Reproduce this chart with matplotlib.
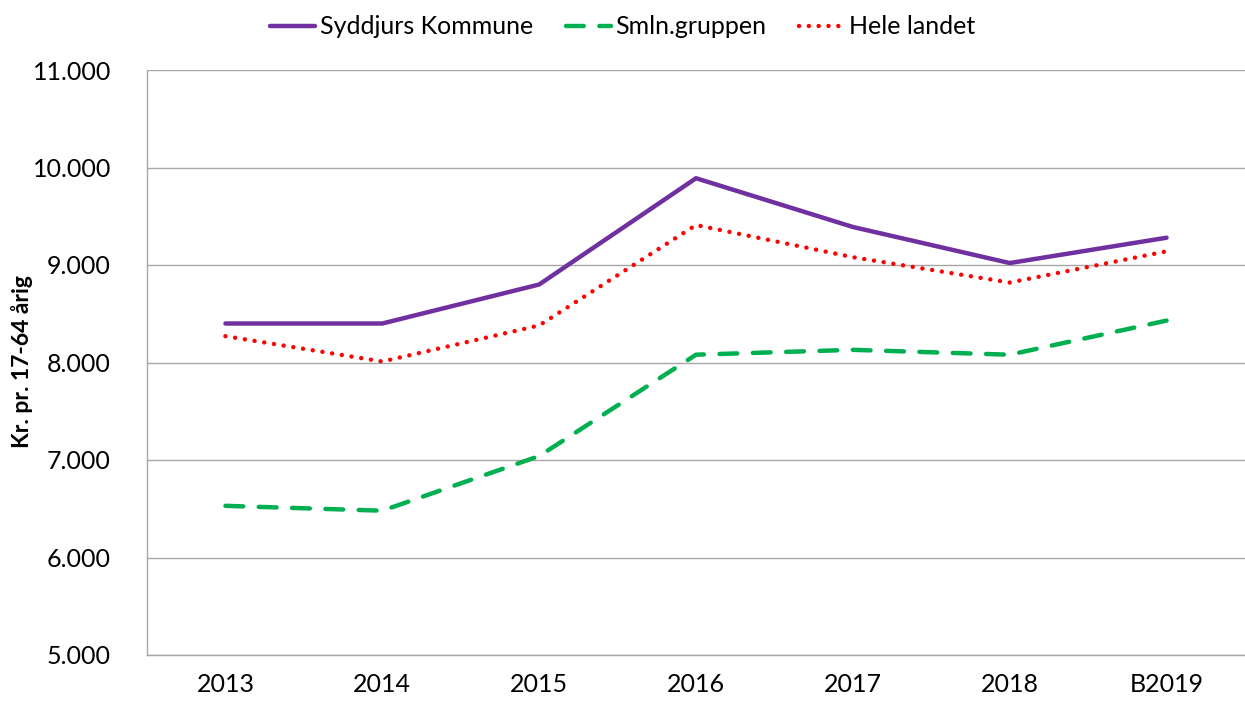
import matplotlib.pyplot as plt
from matplotlib.ticker import FuncFormatter

plt.rcParams["font.family"] = ["Lato", "DejaVu Sans"]

years = ["2013", "2014", "2015", "2016", "2017", "2018", "B2019"]
syddjurs = [8400, 8400, 8800, 9890, 9390, 9020, 9280]
smln = [6530, 6480, 7040, 8080, 8130, 8080, 8430]
hele_landet = [8270, 8010, 8380, 9410, 9080, 8820, 9140]


def main():
    fig = plt.figure(figsize=(12.45, 7.07), dpi=100)
    ax = fig.add_axes([147 / 1245, 52 / 707, 1 - 147 / 1245, 585 / 707])

    x = range(len(years))
    ax.plot(x, syddjurs, color="#7030A0", lw=3.2, label="Syddjurs Kommune",
            solid_capstyle="round")
    ax.plot(x, smln, color="#00B050", lw=3.2, label="Smln.gruppen",
            linestyle=(0, (4, 3.5)), dash_capstyle="round")
    ax.plot(x, hele_landet, color="#FF0000", lw=3.2, label="Hele landet",
            linestyle=(0, (0.01, 2.2)), dash_capstyle="round")

    ax.set_xlim(-0.5, len(years) - 0.5)
    ax.set_ylim(5000, 11000)
    ax.set_yticks(range(5000, 11001, 1000))
    ax.yaxis.set_major_formatter(FuncFormatter(lambda v, p: f"{int(v):,}".replace(",", ".")))
    ax.set_xticks(list(x))
    ax.set_xticklabels(years)
    ax.tick_params(axis="both", length=0, labelsize=18, colors="#000000")
    ax.tick_params(axis="y", pad=26)
    ax.tick_params(axis="x", pad=13)

    ax.grid(axis="y", color="#a6a6a6", lw=1)
    ax.set_axisbelow(True)
    for side in ["top", "right"]:
        ax.spines[side].set_visible(False)
    for side in ["left", "bottom"]:
        ax.spines[side].set_color("#a6a6a6")
        ax.spines[side].set_linewidth(1)

    fig.text(22 / 1245, 1 - 362 / 707, "Kr. pr. 17-64 årig", rotation=90,
             ha="center", va="center", fontsize=16.5, fontweight="bold")

    fig.legend(loc="upper center", bbox_to_anchor=(0.5, 1.01), ncol=3, frameon=False,
               fontsize=18, handlelength=1.8, handletextpad=0.2, columnspacing=1.3)

    fig.savefig("out.png", dpi=100)


if __name__ == "__main__":
    main()
